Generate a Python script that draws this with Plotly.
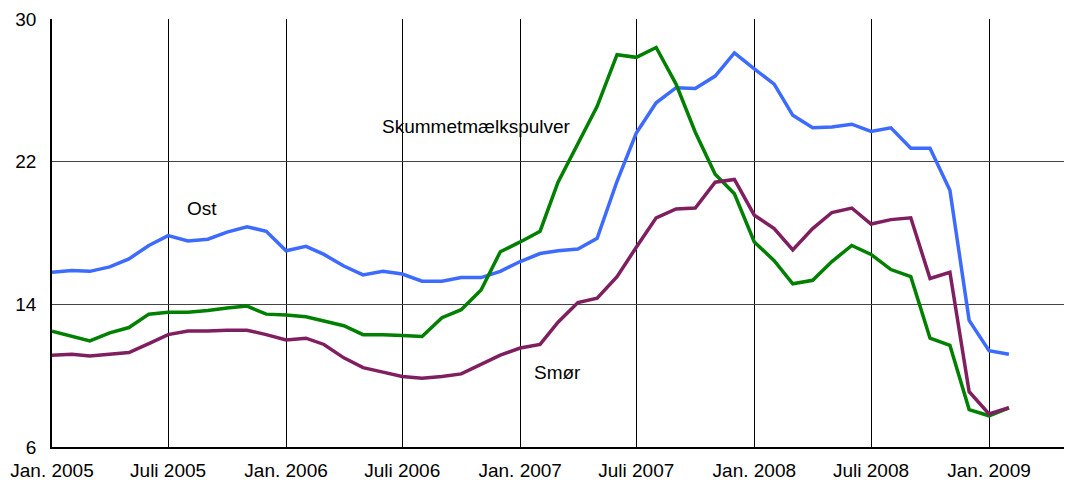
import pandas as pd
import plotly.graph_objects as go

# Monthly observations, Jan 2005 - Feb 2009
months = pd.date_range("2005-01-01", "2009-02-01", freq="MS")

ost = [15.8, 15.9, 15.85, 16.1, 16.55, 17.3, 17.85, 17.55, 17.65, 18.05, 18.35, 18.1,
       17.0, 17.25, 16.8, 16.15, 15.65, 15.85, 15.7, 15.3, 15.3, 15.5, 15.5, 15.85,
       16.4, 16.85, 17.0, 17.1, 17.7, 20.9, 23.6, 25.3, 26.15, 26.1, 26.8, 28.1,
       27.2, 26.35, 24.6, 23.9, 23.95, 24.1, 23.7, 23.9, 22.75, 22.75, 20.4, 13.1,
       11.4, 11.2]

skummet = [12.5, 12.2, 11.95, 12.4, 12.7, 13.45, 13.55, 13.55, 13.65, 13.8, 13.9, 13.45,
           13.4, 13.3, 13.05, 12.8, 12.3, 12.3, 12.25, 12.2, 13.25, 13.7, 14.8, 16.95,
           17.5, 18.1, 20.85, 23.0, 25.1, 28.0, 27.85, 28.4, 26.35, 23.65, 21.3, 20.2,
           17.5, 16.45, 15.15, 15.35, 16.4, 17.3, 16.8, 15.95, 15.55, 12.1, 11.7, 8.1,
           7.75, 8.2]

smoer = [11.15, 11.2, 11.1, 11.2, 11.3, 11.8, 12.3, 12.5, 12.5, 12.55, 12.55, 12.3,
         12.0, 12.1, 11.75, 11.0, 10.45, 10.2, 9.95, 9.85, 9.95, 10.1, 10.65, 11.15,
         11.55, 11.75, 13.0, 14.1, 14.35, 15.55, 17.2, 18.85, 19.35, 19.4, 20.85, 21.0,
         19.0, 18.25, 17.05, 18.25, 19.15, 19.4, 18.5, 18.75, 18.85, 15.45, 15.8, 9.1,
         7.85, 8.2]

tick_dates = ["2005-01-01", "2005-07-01", "2006-01-01", "2006-07-01", "2007-01-01",
              "2007-07-01", "2008-01-01", "2008-07-01", "2009-01-01"]
tick_labels = ["Jan. 2005", "Juli 2005", "Jan. 2006", "Juli 2006", "Jan. 2007",
               "Juli 2007", "Jan. 2008", "Juli 2008", "Jan. 2009"]
y_ticks = [6, 14, 22, 30]

fig = go.Figure()

fig.add_trace(go.Scatter(x=months, y=ost, mode="lines", name="Ost",
                         line=dict(color="#3D6BFF", width=3.5)))
fig.add_trace(go.Scatter(x=months, y=skummet, mode="lines", name="Skummetmælkspulver",
                         line=dict(color="#008000", width=3.5)))
fig.add_trace(go.Scatter(x=months, y=smoer, mode="lines", name="Smør",
                         line=dict(color="#7F1F5F", width=3.5)))

# Series labels placed inside the chart
labels = [("Ost", "2005-08-23", 19.35),
          ("Skummetmælkspulver", "2006-10-25", 24.0),
          ("Smør", "2007-02-28", 10.2)]
for text, x, y in labels:
    fig.add_annotation(x=x, y=y, text=text, showarrow=False,
                       font=dict(size=19, color="black"))

# page body adds an 8px offset, so the figure is a bit smaller than the window
fig.update_layout(
    width=1064,
    height=480,
    margin=dict(l=44, r=6, t=11, b=41),
    paper_bgcolor="white",
    plot_bgcolor="white",
    showlegend=False,
    font=dict(family="Liberation Sans, Arial, sans-serif", size=19, color="black"),
)

fig.update_xaxes(
    range=["2005-01-01", "2009-05-01"],
    tickvals=tick_dates,
    ticktext=tick_labels,
    showgrid=True, gridcolor="black", gridwidth=1,
    showline=True, linecolor="black", linewidth=1.5,
    ticks="", ticklabelstandoff=5,
    zeroline=False, automargin=False,
)
fig.update_yaxes(
    range=[6, 30],
    tickvals=y_ticks,
    showgrid=True, gridcolor="#444444", gridwidth=1,
    showline=True, linecolor="black", linewidth=1.5,
    ticks="", ticklabelstandoff=10,
    zeroline=False, automargin=False,
)

fig.write_html("out.html")
